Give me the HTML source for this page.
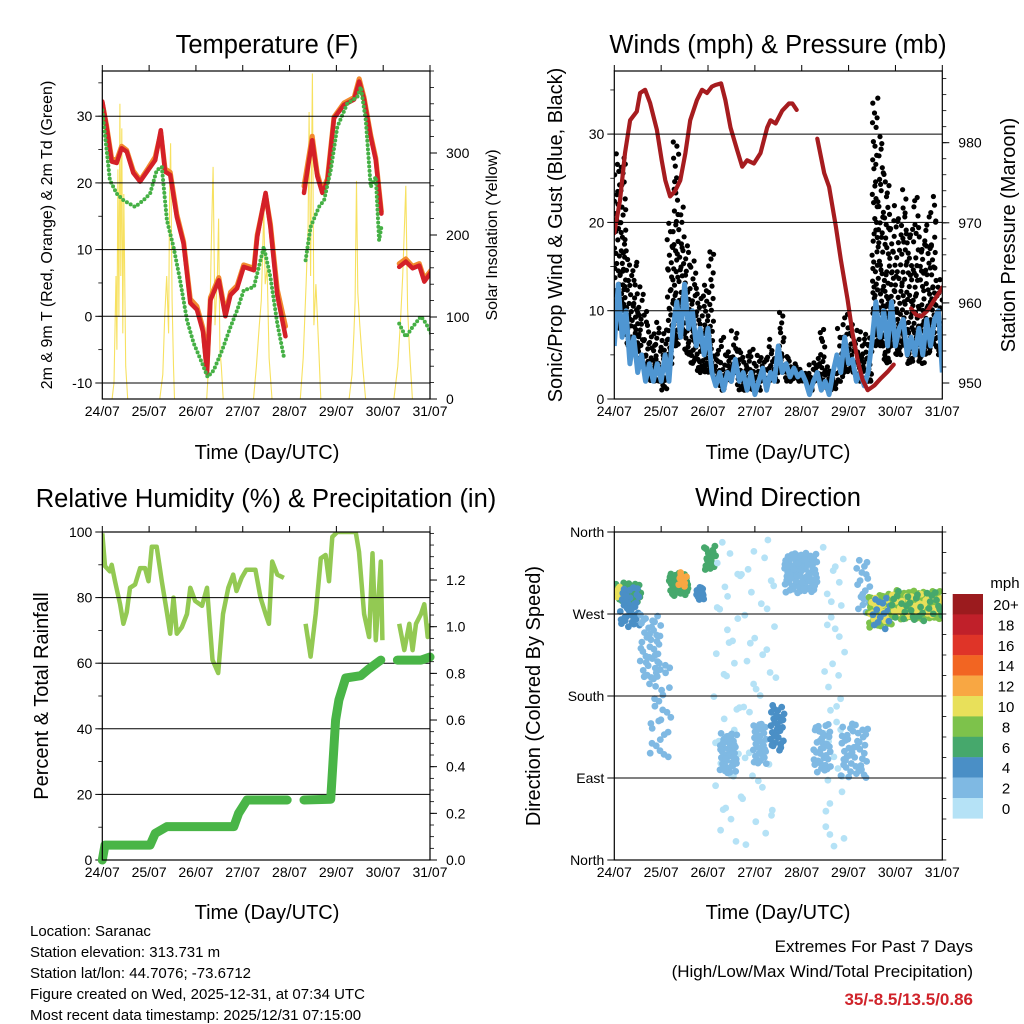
<!DOCTYPE html>
<html><head><meta charset="utf-8"><title>Station Meteogram - Saranac</title>
<style>
html,body{margin:0;padding:0;background:#fff;}
svg{display:block;font-family:"Liberation Sans",sans-serif;}
</style></head>
<body>
<svg id="fig" width="1024" height="1024" viewBox="0 0 1024 1024">
<rect x="0" y="0" width="1024" height="1024" fill="#fff"/>
<defs>
<clipPath id="c1"><rect x="102.3" y="71" width="327.7" height="328"/></clipPath>
<clipPath id="c2"><rect x="614.3" y="71" width="328" height="328"/></clipPath>
<clipPath id="c3"><rect x="102.3" y="532" width="327.7" height="328"/></clipPath>
<clipPath id="c4"><rect x="614.3" y="532" width="328" height="328"/></clipPath>
</defs>
<g font-size="25.5" text-anchor="middle" fill="#000">
<text x="267" y="53">Temperature (F)</text>
<text x="778" y="53">Winds (mph) &amp; Pressure (mb)</text>
<text x="266" y="507">Relative Humidity (%) &amp; Precipitation (in)</text>
<text x="778" y="506">Wind Direction</text>
</g>
<g font-size="20" text-anchor="middle" fill="#000">
<text x="267" y="459">Time (Day/UTC)</text>
<text x="778" y="459">Time (Day/UTC)</text>
<text x="267" y="919">Time (Day/UTC)</text>
<text x="778" y="919">Time (Day/UTC)</text>
<text transform="translate(562,235) rotate(-90)">Sonic/Prop Wind &amp; Gust (Blue, Black)</text>
<text transform="translate(1015,235) rotate(-90)">Station Pressure (Maroon)</text>
<text transform="translate(48,696) rotate(-90)">Percent &amp; Total Rainfall</text>
<text transform="translate(540,696) rotate(-90)">Direction (Colored By Speed)</text>
</g>
<g font-size="16" text-anchor="middle" fill="#000">
<text transform="translate(52,235) rotate(-90)">2m &amp; 9m T (Red, Orange) &amp; 2m Td (Green)</text>
<text transform="translate(497,235) rotate(-90)">Solar Insolation (Yellow)</text>
</g>
<g font-size="15" fill="#000">
<text x="30" y="936">Location: Saranac</text>
<text x="30" y="957">Station elevation: 313.731 m</text>
<text x="30" y="978">Station lat/lon: 44.7076; -73.6712</text>
<text x="30" y="999">Figure created on Wed, 2025-12-31, at 07:34 UTC</text>
<text x="30" y="1020">Most recent data timestamp: 2025/12/31 07:15:00</text>
</g>
<g font-size="17" text-anchor="end" fill="#000">
<text x="973" y="952">Extremes For Past 7 Days</text>
<text x="973" y="977">(High/Low/Max Wind/Total Precipitation)</text>
<text x="973" y="1005" fill="#d0232a" font-weight="bold">35/-8.5/13.5/0.86</text>
</g>
<g id="layer"></g>
</svg>
<script>
// ---------- data ----------
const dayLabels = ["24/07","25/07","26/07","27/07","28/07","29/07","30/07","31/07"];
const tempTicks = [-10,0,10,20,30];
const solarTicks = [0,100,200,300];
const windTicks = [0,10,20,30];
const pressTicks = [950,960,970,980];
const rhTicks = [0,20,40,60,80,100];
const rainTicks = ["0.0","0.2","0.4","0.6","0.8","1.0","1.2"];
const dirTicks = ["North","East","South","West","North"];

const tempHours = [0,2.2,4.8,7.4,9.9,12.5,15.9,19.4,23.7,27.1,30,32.2,34.8,38.2,41.7,45.1,48.5,51.6,53.7,55.4,59.7,63.1,65.7,69.1,72.5,77.7,79.4,83.7,86.2,89.7,93.9,98,103.4,107.6,110.2,112.8,115.4,118.8,123.9,129.1,131.7,134.2,137.6,140.2,143.1,148,152.2,155.6,159.1,162.5,165.1,168.5];
const tempRed = [32.2,28.4,23.2,23,25.2,24.7,21.5,20.2,22,23.4,27.9,21.7,21.2,14.9,10.9,2,1,-2.3,-8.5,2.4,5.4,0,3.2,4.2,7.4,6.9,11.9,18.5,13.4,3.2,-3,null,18.5,26.4,21,18.5,20.2,29.7,31.7,32.5,35.2,32.5,26.9,23.4,15.4,null,7.4,8.2,7.2,7.6,5.2,6.6];
const tempOrange = [32.0,28.6,23.6,23.4,25.5,24.9,21.8,20.4,22.3,23.9,27.5,22.1,21.6,15.3,11.2,2.6,1.5,-1.8,-8.0,2.8,5.8,0.4,3.6,4.6,7.7,7.2,12.2,18.2,13.9,4.0,-1.5,null,19.5,27.0,21.4,18.8,20.6,29.9,32.0,32.8,35.6,32.8,27.2,23.7,15.7,null,7.9,8.6,7.5,7.9,5.6,6.9];
const dewHours = [0,3.9,7.4,10.8,16.8,21.1,24.5,27.9,30.5,33.1,36.5,39.9,43.4,46.8,51.1,54,57.1,61.4,65.7,69.1,72.5,77.7,82.8,86.2,89.7,93.1,98,104.2,106.8,111.1,113.7,117.1,120.5,125.6,130.8,132.5,135.1,137.6,140.2,141.9,143.1,148,152.2,155.6,159.1,163.4,166,168.5];
const dewVals = [30.9,20.4,18.4,17.4,16.4,17.4,18.4,21.9,22.4,14.4,10.4,5.4,-0.6,-4,-7,-9.1,-8.1,-5.1,-1.6,0.9,3.9,4.4,10.4,5.9,-1.1,-6.1,null,8.4,13.4,16.4,17.4,21.9,28.4,31.9,32.9,34.4,29.4,19.4,20.9,11.4,13.4,null,-1.1,-3.1,-1.6,0,-1.1,-2.6];
const solarHours = [0,5,6,7,7.5,8,8.5,9,9.5,10,10.5,11,12,13,29.5,31,32,33,34,34.5,35,35.8,36.5,37,53.5,54.5,55.3,56,56.8,57.8,59,59.6,60.3,61,62,77.5,79,80.5,81.5,82.8,83.5,84.5,85.5,87,101.5,103,104.5,105.5,106,106.8,107.7,108.5,109.5,111,112,126.5,128,129,129.6,130.3,131,132,133.5,135,149.5,151.5,153,154,154.8,155.6,156.5,157.5,159,168];
const solarVals = [0,0,20,150,60,280,100,360,150,330,80,250,40,0,0,30,100,150,80,250,312,120,40,0,0,40,120,200,283,90,150,220,60,40,0,0,40,90,120,230,140,160,50,0,0,50,140,210,350,150,397,90,140,60,0,0,30,80,120,266,130,90,40,0,0,40,100,150,205,260,110,60,0,0];

const pressHours = [0,2.9,5.5,8.1,11.5,13.2,15.8,18.3,21.8,24.3,26.1,28.6,31.2,33.8,36.4,38.9,42.3,44.9,47.5,50,51.8,54.7,56.9,59.5,62.9,65.5,68,71.5,74.9,78.3,80,82.6,86,89.5,91.2,93.4,98,104,107.5,110,113.5,116,119.5,122,124.6,127.2,129.8,133.2,136.6,140,143.1,148,152,154.6,157.2,160.6,164,168.3];
const pressVals = [968.7,972.8,978.7,982.8,983.9,986.2,986.6,985,981.6,977.8,975.3,973.3,974,975.3,978.7,982.8,985.3,986.6,986.2,987,987.2,987.4,985.3,981.9,979.1,977,977.8,977.4,978.7,981.9,982.8,982.4,984,984.9,984.9,984.1,null,980.5,976.2,974.5,969.5,965.4,960.4,956.2,952.9,950.4,949.1,949.7,950.6,951.4,952.3,null,959.3,958.5,958.3,959.1,960.4,962];
const windVals = [6,13,7,10,4,7,3,5,2,4,2,4,2,5,2,8,11,7,13,8,10,6,8,5,8,3,1.5,3,1,3,2,4.5,2,3,1,3,0.5,2,3.5,1,3,2,6,3,4,2.5,3.5,2.5,3,2,0.5,2,3,1,2,0.5,3,5,3,7,4,4.5,2,3,1.5,3,6.5,11,7,10,6,11,6,8,9,5,7,5,8,5,9,6,9,10,3];
const gustHours = [0,3,6,9,12,15,18,21,24,27,30,33,36,39,42,45,48,51,54,57,60,63,66,69,72,75,78,81,84,87,90,93,96,99,102,105,108,111,114,117,120,123,126,129,132,135,138,141,144,147,150,153,156,159,162,165];
const gustLo = [8,10,6,6,4,3,2,2,1,4,6,7,5,4,3,3,3,2,1,2,3,1,1,1,1,2,2,2,3,2,2,2,2,1,2,2,1,1,2,3,3,2,3,2,6,6,4,6,5,6,4,5,4,5,6,5];
const gustHi = [29,28,17,16,13,10,8,9,8,20,30,22,18,16,12,14,17,6,7,6,8,6,5,6,5,5,7,5,10,5,4,4,3,4,5,8,4,3,8,10,9,8,8,7,35,30,26,22,21,24,20,23,19,21,23,14];

const rhHours = [0,1.4,3.9,4.8,6.5,9.1,10.8,12.5,14.2,16.8,19.4,21.9,23.7,25.4,27.9,30.5,33.1,34.8,36.5,38.2,40.8,43.4,45.1,47.6,51.1,53.7,56.5,59.4,61.9,64.6,67.1,68.8,71.4,73.8,78.5,81.1,83.7,85.4,87.1,89.7,93.1,98,104.2,106.8,109.4,112,114.5,116.2,117.9,120.5,129.9,131.6,134.2,136.8,138.5,140.2,142.8,143.6,148,152.2,154.8,157.4,159.1,160.8,163.4,165.1,166.8,168.5];
const rhVals = [99.6,89.6,88,90,85,78,72,75.5,83,84,89,89,85,95.5,95.5,85,75.5,69,80,69,71,75,83,79,77.5,83,61,57,75,83,87,82,86,88.5,88.5,80,75,72,91,87,86,null,72,62,75,92,93,85,98.5,100,100,94,75,68,93.5,67,91,67,null,72,64,72,64,72,75,78,68,72];
const rainHours = [0,1.4,3.9,24.5,27.1,33.1,67.4,69.9,74.2,94.8,99,103.4,117.1,119.6,121.3,124.8,132.5,136.8,142.8,147,151.3,163.4,168];
const rainVals = [0,0.064,0.064,0.064,0.114,0.143,0.143,0.2,0.257,0.257,null,0.257,0.26,0.6,0.686,0.78,0.79,0.82,0.857,null,0.857,0.857,0.87];

// wind-direction clusters (start hour, hour span, direction low/high in degrees, speed mph, dot count)
const dirClusterHour = [0,1,3,13,18,28,33,42,46,51,54,65,71,80,87,107,102,116,124,130,131,132,142,142,142];
const dirClusterSpan = [14,3,10,11,11,10,4,4,6,14,9,18,7,7,17,11,9,14,7,12,10,10,26,26,26];
const dirClusterLo = [283,288,255,200,110,290,300,285,318,20,95,15,105,120,293,10,95,90,270,255,262,250,264,268,262];
const dirClusterHi = [305,302,300,270,220,315,316,300,345,350,140,355,150,170,337,355,150,150,330,292,288,288,296,292,296];
const dirClusterSpeed = [7,11,5,2,2,7,12,4,6,1,3,1,2,4,2,1,3,3,2,8,10,5,8,10,6];
const dirClusterCount = [35,6,35,40,30,40,10,15,18,35,45,40,30,30,80,35,35,45,18,45,20,14,90,30,30];

const speedBins = ["0","2","4","6","8","10","12","14","16","18","20+"];
const speedColors = ["#b5e2f6","#7fb9e3","#4a8fc6","#46a86c","#7dc24b","#e8e05a","#f8a743","#f26522","#df3428","#c0202a","#9b1b1e"];

// ---------- helpers ----------
const NS = "http://www.w3.org/2000/svg";
const layer = document.getElementById("layer");
function mk(tag, attrs, parent){
  const e = document.createElementNS(NS, tag);
  for (const k in attrs) e.setAttribute(k, attrs[k]);
  (parent || layer).appendChild(e);
  return e;
}
// Halton low-discrepancy sequence for jittering dots inside a data-defined range
function halton(i, b){ let f = 1, r = 0; while (i > 0){ f /= b; r += f * (i % b); i = Math.floor(i / b); } return r; }
function xScale(x0, x1){ return h => x0 + (x1 - x0) * h / 168; }
function linPath(hours, vals, xf, yf){
  let d = "", pen = false;
  for (let i = 0; i < hours.length; i++){
    if (vals[i] === null){ pen = false; continue; }
    d += (pen ? "L" : "M") + xf(hours[i]).toFixed(1) + "," + yf(vals[i]).toFixed(1);
    pen = true;
  }
  return d;
}
function txt(x, y, s, anchor, size, parent){
  const t = mk("text", {x:x, y:y, "text-anchor":anchor, "font-size":size||14, fill:"#000"}, parent);
  t.textContent = s;
  return t;
}

// ---------- frames, grids, ticks ----------
function frame(name, x0, y0, x1, y1, clipId){
  const g = mk("g", {});
  
  
  const inner = mk("g", {"clip-path":"url(#" + clipId + ")"}, g);
  return {g:g, inner:inner, x0:x0, x1:x1, y0:y0, y1:y1};
}
function border(p){
  const r = mk("rect", {x:p.x0, y:p.y0, width:p.x1-p.x0, height:p.y1-p.y0, fill:"none", stroke:"#000", "stroke-width":1.2}, p.g);
  
  
  const xf = xScale(p.x0, p.x1);
  for (let d = 0; d < dayLabels.length; d++){
    const x = xf(d * 24);
    const tt = mk("line", {x1:x, x2:x, y1:p.y0, y2:p.y0-6, stroke:"#000", "stroke-width":1}, p.g);
    
    
    const lab = txt(x, p.y1 + 17, dayLabels[d], "middle", 14, p.g);
    
    
  }
}
function leftAxis(p, vals, labels, yf, grid, minorStep, vmin, vmax){
  for (let i = 0; i < vals.length; i++){
    const y = yf(vals[i]);
    if (grid && y > p.y0 + 1 && y < p.y1 - 1){
      const gl = mk("line", {x1:p.x0, x2:p.x1, y1:y, y2:y, stroke:"#000", "stroke-width":1}, p.g);
      
      
    }
    const tk = mk("line", {x1:p.x0-7, x2:p.x0, y1:y, y2:y, stroke:"#000", "stroke-width":1}, p.g);
    
    
    const lab = txt(p.x0 - 10, y + 5, labels[i], "end", 14, p.g);
    
    
  }
  if (minorStep){
    for (let v = vmin; v <= vmax; v += minorStep){
      const y = yf(v);
      if (y < p.y0 || y > p.y1) continue;
      const mt = mk("line", {x1:p.x0-4, x2:p.x0, y1:y, y2:y, stroke:"#000", "stroke-width":0.8}, p.g);
      
      
    }
  }
}
function rightAxis(p, vals, labels, yf, minorStep, vmin, vmax){
  for (let i = 0; i < vals.length; i++){
    const y = yf(vals[i]);
    const tk = mk("line", {x1:p.x1, x2:p.x1+7, y1:y, y2:y, stroke:"#000", "stroke-width":1}, p.g);
    
    
    const lab = txt(p.x1 + 16, y + 5, labels[i], "start", 14, p.g);
    
    
  }
  for (let v = vmin; v <= vmax + 1e-9; v += minorStep){
    const y = yf(v);
    if (y < p.y0 || y > p.y1) continue;
    const mt = mk("line", {x1:p.x1, x2:p.x1+4, y1:y, y2:y, stroke:"#000", "stroke-width":0.8}, p.g);
    
    
  }
}

// ---------- Panel 1: temperature ----------
const p1 = frame("temperature", 102.3, 71, 430, 399, "c1");
const x1f = xScale(p1.x0, p1.x1);
const yT = v => 316.3 - v * 6.67;
const yS = w => 399 - w * 0.82;
leftAxis(p1, tempTicks, tempTicks.map(String), yT, true, 5, -15, 40);
rightAxis(p1, solarTicks, solarTicks.map(String), yS, 20, 0, 400);
const solar = mk("path", {d:linPath(solarHours, solarVals, x1f, yS), fill:"none", stroke:"#f7e160", "stroke-width":1.1}, p1.inner);


const orange = mk("path", {d:linPath(tempHours, tempOrange, x1f, yT), fill:"none", stroke:"#f28a2e", "stroke-width":5, "stroke-linejoin":"round", "stroke-linecap":"round"}, p1.inner);


const red = mk("path", {d:linPath(tempHours, tempRed, x1f, yT), fill:"none", stroke:"#d42028", "stroke-width":4.5, "stroke-linejoin":"round", "stroke-linecap":"round"}, p1.inner);


const dew = mk("path", {d:linPath(dewHours, dewVals, x1f, yT), fill:"none", stroke:"#45b045", "stroke-width":4, "stroke-linecap":"round", "stroke-dasharray":"0 4.3"}, p1.inner);


border(p1);

// ---------- Panel 2: winds & pressure ----------
const p2 = frame("winds", 614.3, 71, 942.3, 399, "c2");
const x2f = xScale(p2.x0, p2.x1);
const yW = v => 399 - v * 8.83;
const yP = mb => 383 - (mb - 950) * 8.01;
leftAxis(p2, windTicks, windTicks.map(String), yW, true, 5, 0, 35);
rightAxis(p2, pressTicks, pressTicks.map(String), yP, 2, 948, 990);
let gseq = 1;
for (let i = 0; i < gustHours.length; i++){
  const lo = gustLo[i], hi = gustHi[i];
  const n = Math.round(6 + (hi - lo) * 1.7);
  for (let k = 0; k < n; k++){
    const th = halton(gseq, 2);
    const tv = Math.pow(halton(gseq, 3), 1.6);
    gseq++;
    const c = mk("circle", {cx:x2f(gustHours[i] + 3 * th).toFixed(1), cy:yW(lo + (hi - lo) * tv).toFixed(1), r:2.6, fill:"#000"}, p2.inner);
    
    
  }
}
const windHours = windVals.map((v, i) => i * 2);
const wind = mk("path", {d:linPath(windHours, windVals, x2f, yW), fill:"none", stroke:"#4f96d2", "stroke-width":5, "stroke-linejoin":"round"}, p2.inner);


const press = mk("path", {d:linPath(pressHours, pressVals, x2f, yP), fill:"none", stroke:"#a61c1f", "stroke-width":4.2, "stroke-linejoin":"round", "stroke-linecap":"round"}, p2.inner);


border(p2);

// ---------- Panel 3: RH & precip ----------
const p3 = frame("humidity", 102.3, 532, 430, 860, "c3");
const x3f = xScale(p3.x0, p3.x1);
const yRH = v => 860 - v * 3.28;
const yR = v => 860 - v * 233.3;
leftAxis(p3, rhTicks, rhTicks.map(String), yRH, true, 10, 0, 100);
rightAxis(p3, rainTicks.map(Number), rainTicks, yR, 0.05, 0, 1.4);
const rh = mk("path", {d:linPath(rhHours, rhVals, x3f, yRH), fill:"none", stroke:"#93c953", "stroke-width":4.5, "stroke-linejoin":"round"}, p3.inner);


const rain = mk("path", {d:linPath(rainHours, rainVals, x3f, yR), fill:"none", stroke:"#49b547", "stroke-width":9, "stroke-linejoin":"round", "stroke-linecap":"round"}, p3.g);


border(p3);

// ---------- Panel 4: wind direction ----------
const p4 = frame("wind-direction", 614.3, 532, 942.3, 860, "c4");
const x4f = xScale(p4.x0, p4.x1);
const yD = d => 860 - d / 360 * 328;
leftAxis(p4, [0,90,180,270,360], dirTicks, yD, true, 0, 0, 0);
for (let v = 0; v <= 360; v += 22.5){
  const y = yD(v);
  const mt = mk("line", {x1:p4.x1, x2:p4.x1+4, y1:y, y2:y, stroke:"#000", "stroke-width":0.8}, p4.g);
  
  
}
function speedColor(s){ return speedColors[Math.max(0, Math.min(10, Math.floor(s / 2)))]; }
let dseq = 1;
for (let i = 0; i < dirClusterHour.length; i++){
  for (let k = 0; k < dirClusterCount[i]; k++){
    const th = halton(dseq, 2);
    const td = halton(dseq, 3);
    dseq++;
    const c = mk("circle", {cx:x4f(dirClusterHour[i] + dirClusterSpan[i] * th).toFixed(1), cy:yD(dirClusterLo[i] + (dirClusterHi[i] - dirClusterLo[i]) * td).toFixed(1), r:3.4, fill:speedColor(dirClusterSpeed[i])}, p4.inner);
    
    
  }
}
border(p4);

// ---------- colorbar ----------
const cb = mk("g", {});


const unit = txt(1005, 588, "mph", "middle", 15, cb);


for (let i = 0; i < speedBins.length; i++){
  const idx = speedBins.length - 1 - i;
  const y = 594 + i * 20.4;
  const r = mk("rect", {x:952.7, y:y, width:30.3, height:20.6, fill:speedColors[idx]}, cb);
  
  
  const l = txt(1006, y + 16, speedBins[idx], "middle", 15, cb);
  
  
}
</script>
</body></html>
